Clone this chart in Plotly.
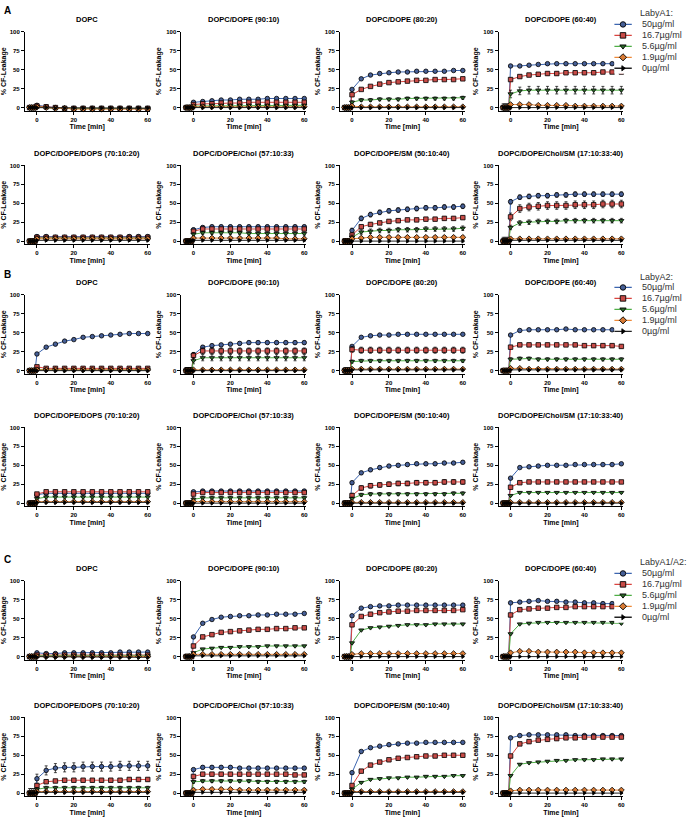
import plotly.graph_objects as go

W, H = 696, 829

# --- DATA ---
BASE_TIME = [-4, -3, -2, -1]
TIME = [0, 5, 10, 15, 20, 25, 30, 35, 40, 45, 50, 55, 60]
BASELINE = [0, 0, 0, 0]

CONCS = ['50µg/ml', '16.7µg/ml', '5.6µg/ml', '1.9µg/ml', '0µg/ml']
LIPIDS = ['DOPC', 'DOPC/DOPE (90:10)', 'DOPC/DOPE (80:20)', 'DOPC/DOPE (60:40)',
          'DOPC/DOPE/DOPS (70:10:20)', 'DOPC/DOPE/Chol (57:10:33)',
          'DOPC/DOPE/SM (50:10:40)', 'DOPC/DOPE/Chol/SM (17:10:33:40)']

# Panel A - LabyA1 (series order: 50, 16.7, 5.6, 1.9, 0 µg/ml)
A_DOPC = [[3, 1, 0, -1, -1, -1, -1, -1, -1, -1, -1, -1, -1],
          [2, 1, 0, -1, -1, -1, -1, -1, -1, -1, -1, -1, -1],
          [1, 0, -1, -1, -1, -1, -1, -1, -1, -1, -1, -1, -1],
          [1, 0, -1, -1, -2, -2, -2, -2, -2, -2, -2, -2, -2],
          [0, 0, -1, -1, -1, -1, -1, -1, -1, -1, -1, -1, -1]]
A_9010 = [[7, 8, 9, 10, 10, 11, 11, 11, 12, 12, 12, 12, 12],
          [4, 5, 5, 6, 6, 6, 7, 7, 7, 7, 7, 7, 7],
          [2, 2, 3, 3, 3, 3, 3, 3, 3, 3, 3, 3, 3],
          [1, 1, 1, 1, 1, 1, 1, 1, 1, 1, 1, 1, 1],
          [0, 0, 0, 0, 0, 0, 0, 0, 0, 0, 0, 0, 0]]
A_8020 = [[24, 38, 43, 45, 46, 47, 47, 48, 48, 48, 48, 49, 49],
          [17, 24, 28, 31, 33, 34, 35, 36, 36, 37, 37, 37, 38],
          [7, 10, 10, 11, 11, 11, 12, 12, 12, 12, 12, 12, 13],
          [2, 1, 1, 1, 1, 1, 1, 1, 1, 1, 1, 1, 1],
          [0, 0, 0, 0, 0, 0, 0, 0, 0, 0, 0, 0, 0]]
A_6040 = [[55, 55, 56, 57, 58, 58, 58, 58, 58, 58, 58, 58, 57],
          [37, 41, 43, 44, 45, 45, 46, 46, 46, 46, 47, 47, 47],
          [18, 22, 23, 23, 23, 23, 23, 23, 23, 23, 23, 23, 23],
          [4, 4, 4, 3, 3, 3, 3, 2, 2, 2, 2, 2, 2],
          [0, 0, 0, 0, 0, 0, 0, 0, 0, 0, 0, 0, 0]]
A_DOPS = [[6, 6, 5, 5, 5, 5, 5, 5, 5, 5, 6, 6, 6],
          [5, 5, 5, 5, 5, 5, 5, 5, 5, 5, 5, 5, 5],
          [4, 4, 4, 4, 4, 4, 4, 4, 4, 4, 4, 4, 4],
          [3, 3, 3, 3, 3, 3, 3, 3, 3, 3, 3, 3, 3],
          [1, 1, 1, 1, 1, 1, 1, 1, 1, 1, 1, 1, 1]]
A_CHOL = [[15, 18, 19, 19, 19, 19, 19, 19, 19, 19, 19, 19, 19],
          [13, 16, 16, 16, 16, 16, 16, 16, 16, 16, 16, 16, 16],
          [9, 11, 11, 11, 11, 11, 10, 10, 10, 10, 10, 10, 10],
          [4, 4, 4, 4, 4, 4, 4, 4, 4, 4, 3, 3, 3],
          [1, 1, 1, 1, 1, 1, 1, 1, 1, 1, 1, 1, 1]]
A_SM = [[14, 30, 35, 38, 40, 41, 42, 43, 44, 44, 45, 45, 46],
        [8, 19, 22, 24, 26, 27, 28, 28, 29, 29, 30, 30, 31],
        [5, 12, 13, 14, 14, 15, 15, 15, 16, 16, 16, 16, 17],
        [3, 4, 5, 5, 5, 5, 5, 5, 5, 5, 5, 5, 5],
        [0, 0, 0, 0, 0, 0, 0, 0, 0, 0, 0, 0, 0]]
A_CHOLSM = [[52, 58, 59, 60, 60, 61, 61, 62, 62, 62, 62, 62, 62],
            [32, 43, 45, 46, 47, 47, 47, 48, 48, 48, 49, 49, 49],
            [18, 24, 25, 26, 26, 26, 27, 27, 27, 27, 27, 27, 27],
            [3, 3, 3, 3, 3, 3, 3, 3, 3, 3, 3, 3, 3],
            [1, 1, 1, 1, 1, 1, 1, 1, 1, 1, 1, 1, 1]]
A_ERR = [[1, 1, 1, 1, 0.5], [1, 1, 1, 1, 0.5], [1, 1, 2, 1, 0.5], [1, 2, 5, 1, 0.5],
         [1, 1, 1, 1, 1], [2, 2, 2, 2, 1], [3, 2, 3, 2, 1], [3, 5, 3, 1, 1]]

# Panel B - LabyA2
B_DOPC = [[22, 31, 35, 39, 41, 44, 45, 46, 47, 48, 49, 49, 49],
          [5, 3, 3, 3, 3, 3, 3, 3, 3, 3, 3, 3, 3],
          [2, 1, 1, 1, 1, 1, 1, 1, 1, 1, 1, 1, 1],
          [1, 1, 1, 1, 1, 1, 1, 1, 1, 1, 1, 1, 1],
          [0, 0, 0, 0, 0, 0, 0, 0, 0, 0, 0, 0, 0]]
B_9010 = [[21, 31, 33, 34, 35, 36, 37, 37, 37, 37, 37, 37, 37],
          [20, 26, 26, 26, 26, 26, 26, 26, 26, 26, 26, 26, 26],
          [13, 17, 17, 17, 17, 17, 17, 17, 17, 17, 17, 17, 17],
          [1, 1, 1, 1, 1, 1, 1, 1, 1, 1, 1, 1, 1],
          [0, 0, 0, 0, 0, 0, 0, 0, 0, 0, 0, 0, 0]]
B_8020 = [[32, 44, 46, 47, 47, 48, 48, 48, 48, 48, 48, 48, 48],
          [28, 27, 27, 27, 27, 27, 27, 27, 27, 27, 27, 27, 27],
          [12, 13, 13, 13, 13, 13, 13, 13, 13, 13, 13, 13, 13],
          [2, 2, 2, 2, 2, 2, 2, 2, 2, 2, 2, 2, 2],
          [1, 1, 1, 1, 1, 1, 1, 1, 1, 1, 1, 1, 1]]
B_6040 = [[47, 53, 54, 54, 54, 54, 55, 54, 54, 54, 54, 54, 54],
          [31, 34, 34, 34, 34, 34, 34, 34, 33, 33, 33, 33, 32],
          [15, 16, 16, 15, 15, 15, 15, 15, 15, 15, 15, 15, 15],
          [3, 3, 2, 2, 2, 2, 2, 2, 2, 2, 2, 2, 2],
          [1, 1, 1, 1, 1, 1, 1, 1, 1, 1, 1, 1, 1]]
B_DOPS = [[11, 13, 13, 13, 13, 13, 13, 13, 13, 13, 13, 13, 13],
          [12, 15, 15, 15, 15, 15, 15, 15, 15, 15, 15, 15, 15],
          [6, 8, 8, 8, 8, 8, 8, 8, 8, 8, 8, 8, 8],
          [2, 2, 2, 2, 2, 2, 2, 2, 2, 2, 2, 2, 2],
          [1, 1, 1, 1, 1, 1, 1, 1, 1, 1, 1, 1, 1]]
B_CHOL = [[15, 16, 16, 16, 16, 16, 16, 16, 16, 16, 16, 16, 16],
          [12, 14, 14, 14, 14, 14, 14, 14, 14, 14, 14, 14, 14],
          [5, 7, 7, 7, 7, 7, 7, 7, 7, 7, 7, 7, 7],
          [2, 2, 2, 2, 2, 2, 2, 2, 2, 2, 2, 2, 2],
          [0, 0, 0, 0, 0, 0, 0, 0, 0, 0, 0, 0, 0]]
B_SM = [[27, 40, 44, 47, 49, 50, 51, 52, 52, 52, 53, 53, 54],
        [10, 20, 23, 24, 25, 26, 26, 27, 27, 27, 28, 28, 28],
        [6, 11, 12, 12, 12, 12, 12, 12, 12, 12, 12, 13, 13],
        [1, 1, 1, 1, 1, 1, 1, 1, 1, 1, 1, 1, 1],
        [0, 0, 0, 0, 0, 0, 0, 0, 0, 0, 0, 0, 0]]
B_CHOLSM = [[33, 47, 48, 49, 50, 50, 50, 51, 51, 51, 51, 51, 52],
            [21, 27, 28, 28, 28, 28, 28, 28, 28, 28, 28, 28, 28],
            [10, 14, 14, 14, 14, 14, 14, 14, 14, 14, 14, 14, 14],
            [1, 1, 1, 1, 1, 1, 1, 1, 1, 1, 1, 1, 1],
            [0, 0, 0, 0, 0, 0, 0, 0, 0, 0, 0, 0, 0]]
B_ERR = [[1, 1, 1, 1, 0.5], [2, 4, 4, 1, 0.5], [1, 4, 2, 1, 0.5], [1, 2, 2, 1, 0.5],
         [2, 2, 1, 1, 0.5], [1, 2, 2, 1, 0.5], [2, 3, 2, 1, 0.5], [1, 1, 1, 1, 0.5]]

# Panel C - LabyA1/A2
C_DOPC = [[5, 4, 4, 5, 5, 5, 5, 5, 5, 6, 6, 6, 6],
          [2, 2, 2, 2, 2, 2, 2, 2, 2, 2, 2, 2, 2],
          [1, 1, 1, 1, 1, 1, 1, 1, 1, 1, 1, 1, 1],
          [0, 0, 0, 0, 0, 0, 0, 0, 0, 0, 0, 0, 0],
          [-1, -1, -1, -1, -1, -1, -1, -1, -1, -1, -1, -1, -1]]
C_9010 = [[26, 44, 49, 52, 53, 54, 54, 55, 55, 56, 56, 56, 57],
          [14, 26, 29, 32, 33, 34, 35, 36, 36, 37, 37, 38, 38],
          [5, 10, 11, 12, 12, 13, 13, 13, 14, 14, 14, 14, 14],
          [3, 3, 3, 3, 3, 3, 3, 3, 3, 3, 3, 3, 3],
          [1, 1, 1, 1, 1, 1, 1, 1, 1, 1, 1, 1, 1]]
C_8020 = [[54, 64, 66, 67, 67, 68, 68, 68, 68, 68, 68, 68, 68],
          [42, 53, 56, 58, 59, 60, 60, 61, 61, 61, 61, 61, 62],
          [18, 35, 38, 39, 40, 41, 42, 42, 42, 43, 43, 43, 43],
          [3, 4, 4, 4, 4, 4, 4, 4, 4, 4, 4, 4, 4],
          [0, 0, 0, 0, 0, 0, 0, 0, 0, 0, 0, 0, 0]]
C_6040 = [[71, 72, 73, 74, 73, 73, 72, 72, 71, 71, 70, 70, 70],
          [55, 62, 63, 64, 64, 65, 65, 66, 66, 66, 66, 66, 66],
          [30, 43, 44, 45, 45, 45, 45, 45, 45, 45, 45, 45, 44],
          [5, 7, 7, 6, 6, 6, 6, 6, 5, 5, 5, 5, 5],
          [0, 0, 0, 0, 0, 0, 0, 0, 0, 0, 0, 0, 0]]
C_DOPS = [[19, 30, 33, 34, 34, 35, 35, 35, 35, 36, 36, 36, 36],
          [10, 15, 16, 17, 17, 17, 17, 17, 17, 17, 18, 18, 18],
          [5, 7, 7, 7, 7, 7, 7, 7, 7, 7, 7, 7, 7],
          [2, 2, 2, 2, 2, 2, 2, 2, 2, 2, 2, 2, 2],
          [1, 1, 1, 1, 1, 1, 1, 1, 1, 1, 1, 1, 1]]
C_CHOL = [[31, 34, 34, 34, 34, 33, 33, 33, 33, 33, 33, 33, 33],
          [22, 25, 25, 25, 25, 25, 25, 25, 25, 25, 25, 24, 24],
          [15, 16, 16, 16, 16, 16, 16, 15, 15, 15, 15, 15, 15],
          [4, 5, 5, 5, 5, 4, 4, 4, 4, 4, 4, 4, 4],
          [1, 1, 1, 1, 1, 1, 1, 1, 1, 1, 1, 1, 1]]
C_SM = [[27, 55, 60, 62, 64, 65, 66, 66, 67, 67, 67, 67, 67],
        [10, 29, 37, 41, 44, 46, 47, 48, 49, 49, 50, 50, 50],
        [5, 14, 18, 19, 20, 20, 21, 21, 22, 22, 22, 23, 23],
        [2, 2, 2, 2, 2, 2, 2, 2, 2, 2, 2, 2, 2],
        [1, 1, 1, 1, 1, 1, 1, 1, 1, 1, 1, 1, 1]]
C_CHOLSM = [[73, 76, 77, 77, 77, 77, 77, 76, 76, 76, 76, 76, 76],
            [49, 65, 68, 70, 71, 72, 73, 73, 74, 74, 74, 74, 74],
            [23, 38, 40, 41, 42, 43, 43, 44, 44, 44, 45, 45, 45],
            [3, 4, 4, 4, 4, 4, 4, 4, 4, 4, 4, 4, 4],
            [0, 0, 0, 0, 0, 0, 0, 0, 0, 0, 0, 0, 0]]
C_ERR = [[1, 1, 1, 1, 0.5], [1, 1, 1, 1, 0.5], [1, 1, 1, 1, 0.5], [1, 1, 1, 1, 0.5],
         [6, 2, 2, 1, 0.5], [2, 2, 2, 2, 0.5], [1, 1, 1, 1, 0.5], [1, 2, 1, 1, 0.5]]

PANELS = [
    ('A', 'LabyA1:', [A_DOPC, A_9010, A_8020, A_6040, A_DOPS, A_CHOL, A_SM, A_CHOLSM], A_ERR),
    ('B', 'LabyA2:', [B_DOPC, B_9010, B_8020, B_6040, B_DOPS, B_CHOL, B_SM, B_CHOLSM], B_ERR),
    ('C', 'LabyA1/A2:', [C_DOPC, C_9010, C_8020, C_6040, C_DOPS, C_CHOL, C_SM, C_CHOLSM], C_ERR),
]

# --- STYLE ---
LINE_COLORS = ['#3d66b0', '#d9443f', '#4fae47', '#ee8a3a', '#222222']
FILL_COLORS = ['#465f96', '#c84b47', '#2f6b2c', '#d77a35', '#000000']
SYMBOLS = ['circle', 'square', 'triangle-down', 'diamond', 'triangle-right']
SIZES = [4.5, 4.5, 4.5, 4.5, 3.5]

COL_X = [25, 182, 341, 500]   # left edge of each plot (px)
PLOT_W = 125
ROW_TOP = [29, 163, 293, 426, 580, 717]  # top edge of each plot row (px)
PLOT_H = 79
LEG_X = 616  # legend left edge (px)
LEG_ROW = 11  # legend row height (px)

FONT = 'Liberation Sans, Arial, sans-serif'
BOLD7 = dict(size=7, family=FONT, color='black', weight='bold')
LEG_FONT = dict(size=9, family=FONT, color='#333')

fig = go.Figure()
annotations = []
layout = {}


def axis_common():
    return dict(showline=True, linecolor='black', linewidth=1,
                ticks='outside', ticklen=3, tickwidth=1, tickcolor='black',
                showgrid=False, zeroline=False,
                tickfont=dict(size=6, family=FONT, color='black', weight='bold'))


for p, (label, pep, subs, errs) in enumerate(PANELS):
    for s, series in enumerate(subs):
        idx = p * 8 + s + 1
        row = p * 2 + s // 4
        col = s % 4
        x0 = COL_X[col]
        top = ROW_TOP[row]
        ax = '' if idx == 1 else str(idx)
        layout[f'xaxis{ax}'] = dict(
            domain=[x0 / W, (x0 + PLOT_W) / W], anchor=f'y{ax}',
            range=[-6.5, 61], tickvals=[0, 20, 40, 60],
            title=dict(text='Time [min]', standoff=2, font=BOLD7), **axis_common())
        layout[f'yaxis{ax}'] = dict(
            domain=[1 - (top + PLOT_H) / H, 1 - top / H], anchor=f'x{ax}',
            range=[-4, 100], tickvals=[0, 25, 50, 75, 100],
            title=dict(text='% CF-Leakage', standoff=3, font=BOLD7), **axis_common())
        annotations.append(dict(
            text=f'<b>{LIPIDS[s]}</b>', xref='paper', yref='paper',
            x=(x0 + PLOT_W / 2) / W, y=1 - (top - 12) / H,
            xanchor='center', yanchor='middle', showarrow=False,
            font=dict(size=7.5, family=FONT, color='black')))

        for k in range(5):
            fig.add_trace(go.Scatter(
                x=BASE_TIME + TIME, y=BASELINE + series[k],
                xaxis=f'x{ax}', yaxis=f'y{ax}',
                mode='lines+markers', name=CONCS[k],
                line=dict(color=LINE_COLORS[k], width=1),
                marker=dict(symbol=SYMBOLS[k], size=SIZES[k], color=FILL_COLORS[k],
                            line=dict(color='black', width=0.8)),
                error_y=dict(type='constant', value=errs[s][k], color='black',
                             thickness=0.7, width=1.5),
                showlegend=False, cliponaxis=False,
            ))

    # hand-drawn legend on its own hidden axis (rows of LEG_ROW px, 8 px per x unit)
    top = ROW_TOP[p * 2]
    lg = str(25 + p)
    leg_top = top - 24
    layout[f'xaxis{lg}'] = dict(domain=[LEG_X / W, (LEG_X + 80) / W], range=[0, 10],
                                visible=False, anchor=f'y{lg}')
    layout[f'yaxis{lg}'] = dict(domain=[1 - (leg_top + 6 * LEG_ROW) / H, 1 - leg_top / H],
                                range=[4.5, -1.5], visible=False, anchor=f'x{lg}')
    for k in range(5):
        fig.add_trace(go.Scatter(
            x=[0, 1.1, 2.2], y=[k, k, k], xaxis=f'x{lg}', yaxis=f'y{lg}',
            mode='lines+markers',
            line=dict(color=LINE_COLORS[k], width=1.3),
            marker=dict(symbol=SYMBOLS[k], size=[0, SIZES[k] + 1, 0],
                        opacity=[0, 1, 0], color=FILL_COLORS[k],
                        line=dict(color='black', width=0.9)),
            showlegend=False, cliponaxis=False, hoverinfo='skip'))
        annotations.append(dict(
            text=CONCS[k], xref=f'x{lg}', yref=f'y{lg}', x=3.2, y=k,
            xanchor='left', yanchor='middle', showarrow=False, font=LEG_FONT))
    annotations.append(dict(
        text=pep, xref=f'x{lg}', yref=f'y{lg}', x=3.0, y=-1,
        xanchor='left', yanchor='middle', showarrow=False, font=LEG_FONT))

    annotations.append(dict(
        text=f'<b>{label}</b>', xref='paper', yref='paper',
        x=2 / W, y=1 - (top - 21) / H, xanchor='left', yanchor='middle',
        showarrow=False, font=dict(size=10, family=FONT, color='black')))

fig.update_layout(
    width=W, height=H, margin=dict(l=0, r=0, t=0, b=0),
    paper_bgcolor='white', plot_bgcolor='white', showlegend=False,
    annotations=annotations, **layout)

fig.write_html('out.html', config={'displayModeBar': False},
               post_script="document.body.style.margin='0';")
